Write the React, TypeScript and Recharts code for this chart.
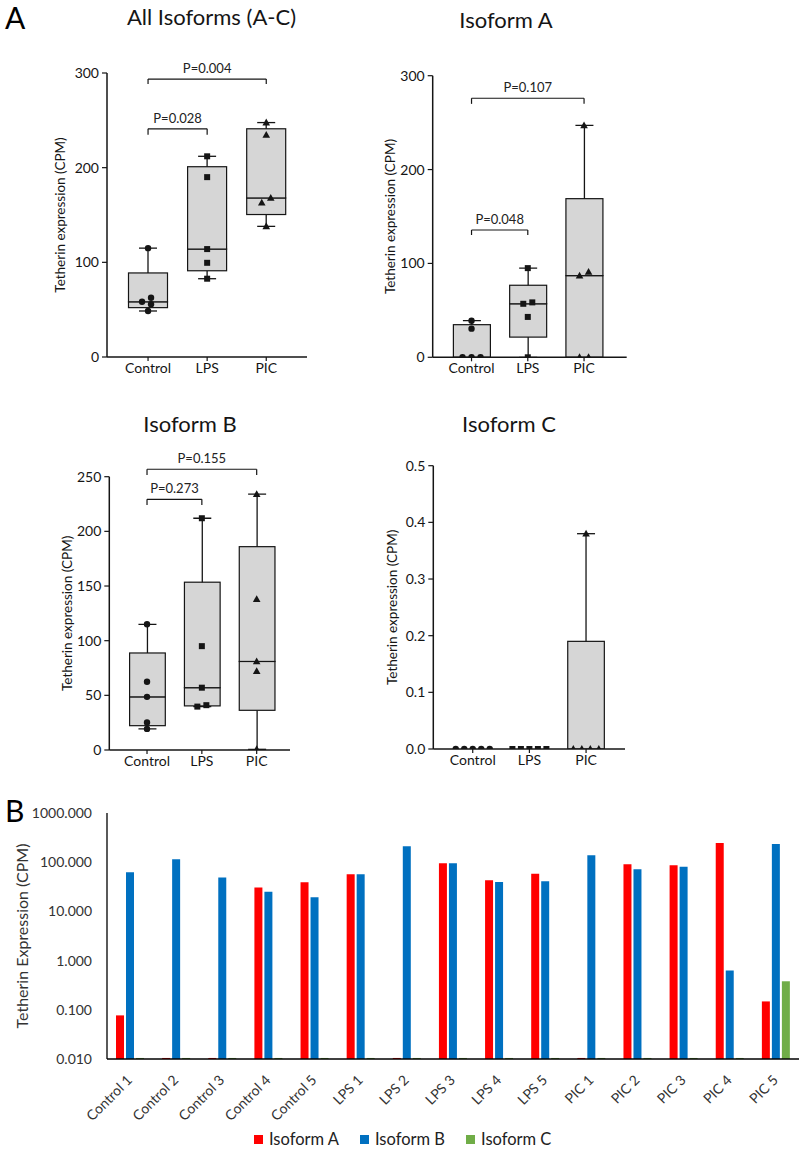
import React from "react";
import {
  ComposedChart,
  BarChart,
  Bar,
  Scatter,
  XAxis,
  YAxis,
  ReferenceLine,
} from "recharts";

const FONT = "Lato, 'Open Sans', sans-serif";
const INK = "#151515";

// samples, in the order of panel B
const SAMPLES = [
  "Control 1", "Control 2", "Control 3", "Control 4", "Control 5",
  "LPS 1", "LPS 2", "LPS 3", "LPS 4", "LPS 5",
  "PIC 1", "PIC 2", "PIC 3", "PIC 4", "PIC 5",
];
const GROUPS = ["Control", "LPS", "PIC"];

// CPM per sample
const ISOFORM_A = [0.077, 0, 0, 30.5, 39, 57, 0, 95, 43, 58.5, 0, 91, 87, 247, 0.148];
const ISOFORM_B = [62.5, 115, 48.6, 25.2, 19.3, 57, 212, 95, 39.7, 41, 138, 72, 81, 0.63, 234];
const ISOFORM_C = [0, 0, 0, 0, 0, 0, 0, 0, 0, 0, 0, 0, 0, 0, 0.38];
const ALL_ISOFORMS = SAMPLES.map((_, i) => ISOFORM_A[i] + ISOFORM_B[i] + ISOFORM_C[i]);

const TICKS_300 = [0, 100, 200, 300];
const TICKS_250 = [0, 50, 100, 150, 200, 250];
const TICKS_05 = [0, 0.1, 0.2, 0.3, 0.4, 0.5];
const LOG_TICKS = [0.01, 0.1, 1, 10, 100, 1000];

// significance brackets: [from, to, label, height, drop]
const BRACKETS_ALL: [string, string, string, number, number][] = [
  ["Control", "LPS", "P=0.028", 241, 6.3],
  ["Control", "PIC", "P=0.004", 293.6, 5.3],
];
const BRACKETS_A: [string, string, string, number, number][] = [
  ["Control", "LPS", "P=0.048", 135.6, 5.3],
  ["Control", "PIC", "P=0.107", 276, 6],
];
const BRACKETS_B: [string, string, string, number, number][] = [
  ["Control", "LPS", "P=0.273", 229.3, 5.2],
  ["Control", "PIC", "P=0.155", 256.8, 5.3],
];

const groupOf = (s: string) => s.split(" ")[0];

function quantile(sorted: number[], p: number) {
  const pos = Math.min(Math.max((sorted.length + 1) * p - 1, 0), sorted.length - 1);
  const lo = Math.floor(pos);
  const hi = Math.ceil(pos);
  return sorted[lo] + (sorted[hi] - sorted[lo]) * (pos - lo);
}

function boxRows(values: number[]) {
  return GROUPS.map((g) => {
    const v = values.filter((_, i) => groupOf(SAMPLES[i]) === g).sort((a, b) => a - b);
    const min = v[0];
    const max = v[v.length - 1];
    const q1 = quantile(v, 0.25);
    const med = quantile(v, 0.5);
    const q3 = quantile(v, 0.75);
    return {
      group: g,
      base: min,
      lowW: q1 - min,
      lowBox: med - q1,
      highBox: q3 - med,
      highW: max - q3,
    };
  });
}

// simple swarm so that overlapping dots sit side by side
function pointRows(values: number[], thr: number, step: number) {
  const out: { group: string; value: number; dx: number }[] = [];
  GROUPS.forEach((g) => {
    const v = values.filter((_, i) => groupOf(SAMPLES[i]) === g);
    const order = v.map((_, i) => i).sort((a, b) => v[b] - v[a]);
    const slot = new Array(v.length).fill(0);
    const placed: number[] = [];
    for (const i of order) {
      for (const c of [0, -1, 1, -2, 2, -3, 3]) {
        const clash = placed.some((j) => Math.abs(v[j] - v[i]) < thr && slot[j] === c);
        if (!clash) {
          slot[i] = c;
          break;
        }
      }
      placed.push(i);
    }
    // centre each cluster of touching dots
    const seen = new Array(v.length).fill(false);
    for (let i = 0; i < v.length; i++) {
      if (seen[i]) continue;
      const stack = [i];
      const comp: number[] = [];
      seen[i] = true;
      while (stack.length) {
        const k = stack.pop() as number;
        comp.push(k);
        for (let j = 0; j < v.length; j++) {
          if (!seen[j] && Math.abs(v[j] - v[k]) < thr) {
            seen[j] = true;
            stack.push(j);
          }
        }
      }
      const mean = comp.reduce((s, k) => s + slot[k], 0) / comp.length;
      comp.forEach((k) => out.push({ group: g, value: v[k], dx: (slot[k] - mean) * step }));
    }
  });
  return out;
}

const axisTitle = (text: string, gap: number, size: number, fill: string) => (props: any) => {
  const vb = props.viewBox || {};
  const x = vb.x + vb.width - gap;
  const y = vb.y + vb.height / 2;
  return (
    <text
      x={x}
      y={y}
      transform={`rotate(-90, ${x}, ${y})`}
      textAnchor="middle"
      dominantBaseline="central"
      fontSize={size}
      fontFamily={FONT}
      fill={fill}
    >
      {text}
    </text>
  );
};

const BoxPart = (props: any) => {
  const { x, y, width, height } = props;
  if (!height || height <= 0) return null;
  return (
    <rect x={x} y={y} width={width} height={height} fill="#d6d6d6" stroke={INK} strokeWidth={1.2} />
  );
};

const whisker = (cap: "top" | "bottom") => (props: any) => {
  const { x, y, width, height } = props;
  if (!height || height <= 0.3) return null;
  const cx = x + width / 2;
  const cy = cap === "top" ? y : y + height;
  return (
    <g>
      <line x1={cx} x2={cx} y1={y} y2={y + height} stroke={INK} strokeWidth={1.3} />
      <line x1={cx - 9} x2={cx + 9} y1={cy} y2={cy} stroke={INK} strokeWidth={1.3} />
    </g>
  );
};

const Dot = (props: any) => {
  const { cx, cy, payload } = props;
  const x = cx + (payload?.dx || 0);
  if (payload?.group === "LPS") {
    return <rect x={x - 3} y={cy - 3} width={6} height={6} fill={INK} />;
  }
  if (payload?.group === "PIC") {
    return <polygon points={`${x},${cy - 4} ${x - 3.8},${cy + 2.8} ${x + 3.8},${cy + 2.8}`} fill={INK} />;
  }
  return <circle cx={x} cy={cy} r={3.2} fill={INK} />;
};

interface PanelProps {
  title: string;
  titleX: number;
  titleY: number;
  values: number[];
  domainMax: number;
  ticks: number[];
  decimals: number;
  brackets: [string, string, string, number, number][];
  left: number;
  top: number;
  width: number;
  height: number;
  axisWidth: number;
  marginTop: number;
  padL: number;
  padR: number;
  boxWidth: number;
  labelGap: number;
  step: number;
}

function BoxPanel(p: PanelProps) {
  const rows = boxRows(p.values);
  const points = pointRows(p.values, p.domainMax * 0.02, p.step);
  const line = { stroke: INK, strokeWidth: 1.2 };
  return (
    <>
      <div
        style={{
          position: "absolute",
          left: p.titleX - 150,
          top: p.titleY,
          width: 300,
          textAlign: "center",
          fontFamily: FONT,
          fontSize: 22,
          lineHeight: 1,
          color: INK,
        }}
      >
        {p.title}
      </div>
      <div style={{ position: "absolute", left: p.left, top: p.top }}>
        <ComposedChart
          width={p.width}
          height={p.height}
          data={rows}
          margin={{ top: p.marginTop, right: 0, bottom: 0, left: 0 }}
        >
          <XAxis
            dataKey="group"
            type="category"
            allowDuplicatedCategory={false}
            padding={{ left: p.padL, right: p.padR }}
            height={30}
            tickSize={4}
            tickMargin={2}
            axisLine={{ stroke: INK, strokeWidth: 1.5 }}
            tickLine={{ stroke: INK, strokeWidth: 1.2 }}
            tick={{ fill: INK, fontSize: 14, fontFamily: FONT }}
          />
          <YAxis
            type="number"
            domain={[0, p.domainMax]}
            ticks={p.ticks}
            interval={0}
            allowDataOverflow
            width={p.axisWidth}
            tickSize={5}
            tickMargin={3}
            tickFormatter={(v: number) => v.toFixed(p.decimals)}
            axisLine={{ stroke: INK, strokeWidth: 1.5 }}
            tickLine={{ stroke: INK, strokeWidth: 1.2 }}
            tick={{ fill: INK, fontSize: 14, fontFamily: FONT }}
            label={axisTitle("Tetherin expression (CPM)", p.labelGap, 13.5, INK)}
          />
          <Bar dataKey="base" stackId="box" barSize={p.boxWidth} fill="none" isAnimationActive={false} />
          <Bar dataKey="lowW" stackId="box" barSize={p.boxWidth} shape={whisker("bottom")} isAnimationActive={false} />
          <Bar dataKey="lowBox" stackId="box" barSize={p.boxWidth} shape={BoxPart} isAnimationActive={false} />
          <Bar dataKey="highBox" stackId="box" barSize={p.boxWidth} shape={BoxPart} isAnimationActive={false} />
          <Bar dataKey="highW" stackId="box" barSize={p.boxWidth} shape={whisker("top")} isAnimationActive={false} />
          <Scatter data={points} dataKey="value" shape={Dot} isAnimationActive={false} />
          {p.brackets.map(([from, to, label, y, drop]) => [
            <ReferenceLine
              key={label + "h"}
              segment={[{ x: from, y }, { x: to, y }]}
              ifOverflow="visible"
              {...line}
              label={{ value: label, position: "top", offset: 6, fontSize: 13, fontFamily: FONT, fill: "#222" }}
            />,
            <ReferenceLine key={label + "l"} segment={[{ x: from, y }, { x: from, y: y - drop }]} ifOverflow="visible" {...line} />,
            <ReferenceLine key={label + "r"} segment={[{ x: to, y }, { x: to, y: y - drop }]} ifOverflow="visible" {...line} />,
          ])}
        </ComposedChart>
      </div>
    </>
  );
}

// log axis has no zero: empty samples sit on the floor as a sliver
const LOG_FLOOR = 0.0105;
const SERIES = [
  { key: "a", name: "Isoform A", color: "#FF0000", values: ISOFORM_A },
  { key: "b", name: "Isoform B", color: "#0070C0", values: ISOFORM_B },
  { key: "c", name: "Isoform C", color: "#70AD47", values: ISOFORM_C },
];
const sampleRows = SAMPLES.map((s, i) => {
  const row: Record<string, string | number> = { sample: s };
  SERIES.forEach((se) => (row[se.key] = Math.max(se.values[i], LOG_FLOOR)));
  return row;
});

const SampleTick = (props: any) => {
  const { x, y, payload } = props;
  const tx = x + 3;
  const ty = y + 22;
  return (
    <text
      x={tx}
      y={ty}
      transform={`rotate(-45, ${tx}, ${ty})`}
      textAnchor="end"
      fontSize={14}
      fontFamily={FONT}
      fill="#333"
    >
      {payload.value}
    </text>
  );
};

const bigLetter = (text: string, top: number) => (
  <div
    style={{
      position: "absolute",
      left: 5,
      top,
      fontFamily: FONT,
      fontSize: 30,
      lineHeight: 1,
      color: "#000",
    }}
  >
    {text}
  </div>
);

export default function App() {
  return (
    <div
      style={{
        position: "absolute",
        left: 0,
        top: 0,
        width: 800,
        height: 1150,
        background: "#fff",
        overflow: "hidden",
      }}
    >
      {bigLetter("A", 2)}
      {bigLetter("B", 795)}

      <BoxPanel
        title="All Isoforms (A-C)" titleX={211.5} titleY={6}
        values={ALL_ISOFORMS} domainMax={300} ticks={TICKS_300} decimals={0}
        brackets={BRACKETS_ALL}
        left={0} top={30} width={307} height={357} axisWidth={107} marginTop={43}
        padL={11.5} padR={11.2} boxWidth={39} labelGap={47} step={9}
      />
      <BoxPanel
        title="Isoform A" titleX={506} titleY={9}
        values={ISOFORM_A} domainMax={300} ticks={TICKS_300} decimals={0}
        brackets={BRACKETS_A}
        left={340} top={30} width={286.7} height={357.3} axisWidth={92.7} marginTop={45.7}
        padL={10.7} padR={14.5} boxWidth={37} labelGap={43} step={9}
      />
      <BoxPanel
        title="Isoform B" titleX={190} titleY={413}
        values={ISOFORM_B} domainMax={250} ticks={TICKS_250} decimals={0}
        brackets={BRACKETS_B}
        left={0} top={445} width={290} height={335} axisWidth={109.3} marginTop={31.7}
        padL={10.3} padR={5.9} boxWidth={35.7} labelGap={42} step={9}
      />
      <BoxPanel
        title="Isoform C" titleX={509} titleY={413}
        values={ISOFORM_C} domainMax={0.5} ticks={TICKS_05} decimals={1}
        brackets={[]}
        left={340} top={445} width={285} height={334} axisWidth={93.3} marginTop={20.7}
        padL={11.1} padR={10.6} boxWidth={36.6} labelGap={41} step={8.5}
      />

      <div style={{ position: "absolute", left: 0, top: 800 }}>
        <BarChart
          width={799}
          height={334}
          data={sampleRows}
          margin={{ top: 13, right: 0, bottom: 0, left: 0 }}
          barSize={8}
          barGap={2}
        >
          <XAxis
            dataKey="sample"
            interval={0}
            height={75}
            tickSize={0}
            tickMargin={0}
            tickLine={false}
            axisLine={{ stroke: "#000", strokeWidth: 1.3 }}
            tick={SampleTick}
          />
          <YAxis
            type="number"
            scale="log"
            domain={[0.01, 1000]}
            ticks={LOG_TICKS}
            interval={0}
            allowDataOverflow
            width={107}
            tickSize={0}
            tickMargin={15}
            tickLine={false}
            tickFormatter={(v: number) => v.toFixed(3)}
            axisLine={{ stroke: "#000", strokeWidth: 1.3 }}
            tick={{ fill: "#333", fontSize: 14, fontFamily: FONT }}
            label={axisTitle("Tetherin Expression (CPM)", 86, 16, "#333")}
          />
          {SERIES.map((se) => (
            <Bar key={se.key} dataKey={se.key} name={se.name} fill={se.color} isAnimationActive={false} />
          ))}
        </BarChart>
      </div>

      <div
        style={{
          position: "absolute",
          left: 254,
          top: 1131,
          display: "flex",
          alignItems: "center",
          gap: 21,
          fontFamily: FONT,
          fontSize: 16.5,
          color: "#222",
          lineHeight: 1,
        }}
      >
        {SERIES.map((se) => (
          <div key={se.key} style={{ display: "flex", alignItems: "center", gap: 6 }}>
            <div style={{ width: 9, height: 9, background: se.color }} />
            <span>{se.name}</span>
          </div>
        ))}
      </div>
    </div>
  );
}
